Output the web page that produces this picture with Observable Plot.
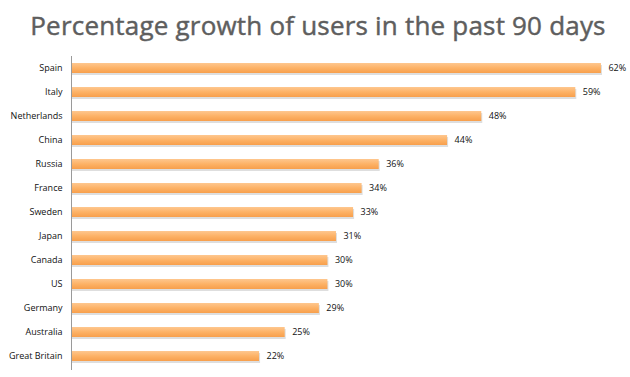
<!DOCTYPE html>
<html>
<head>
<meta charset="utf-8">
<script src="https://cdn.jsdelivr.net/npm/d3@7"></script>
<script src="https://cdn.jsdelivr.net/npm/@observablehq/plot@0.6"></script>
<style>
  html, body { margin: 0; padding: 0; background: #fff; }
  #wrap { position: relative; width: 630px; height: 377px; overflow: hidden; }
  #title { position: absolute; left: 0; top: 7px; width: 636px; text-align: center;
    font-family: "Open Sans", sans-serif; font-size: 26px; font-weight: 400; color: #5e5e5e;
    letter-spacing: 0.2px; line-height: 36px; -webkit-text-stroke: 0.45px #5e5e5e; }
  #chart { position: absolute; left: 0; top: 46px; }
</style>
</head>
<body>
<div id="wrap">
  <div id="title">Percentage growth of users in the past 90 days</div>
  <div id="chart"></div>
</div>
<script>
const countries = ["Spain", "Italy", "Netherlands", "China", "Russia", "France", "Sweden", "Japan", "Canada", "US", "Germany", "Australia", "Great Britain"];
const growth = [62, 59, 48, 44, 36, 34, 33, 31, 30, 30, 29, 25, 22];
const valueLabels = ["62%", "59%", "48%", "44%", "36%", "34%", "33%", "31%", "30%", "30%", "29%", "25%", "22%"];

const data = countries.map((c, i) => ({country: c, value: growth[i], label: valueLabels[i]}));

const plot = Plot.plot({
  width: 630,
  height: 331,
  marginLeft: 71,
  marginRight: 0,
  marginTop: 3,
  marginBottom: 2,
  style: {fontFamily: "'Open Sans', sans-serif", fontSize: "9px", color: "#111", background: "transparent"},
  x: {domain: [0, 65.4], axis: null},
  y: {domain: countries, paddingInner: 0.58, paddingOuter: 0.58, label: null, tickSize: 0, tickPadding: 9},
  marks: [
    Plot.barX(data, {x: "value", y: "country", fill: "#c8c8c8", dy: 2, dx: 1, fillOpacity: 0.6}),
    Plot.barX(data, {x: "value", y: "country", fill: "url(#barGrad)"}),
    Plot.text(data, {x: "value", y: "country", text: "label", textAnchor: "start", dx: 7, fill: "#111", fontSize: 9}),
    Plot.ruleX([0], {stroke: "#9a9a9a", strokeWidth: 1, insetTop: 7, insetBottom: 5})
  ]
});

const svg = d3.select(plot);
const defs = svg.insert("defs", ":first-child");
const g = defs.append("linearGradient").attr("id", "barGrad").attr("x1", 0).attr("y1", 0).attr("x2", 0).attr("y2", 1);
g.append("stop").attr("offset", "0%").attr("stop-color", "#fec78f");
g.append("stop").attr("offset", "50%").attr("stop-color", "#fdb266");
g.append("stop").attr("offset", "100%").attr("stop-color", "#f79f4c");

document.getElementById("chart").appendChild(plot);
</script>
</body>
</html>
